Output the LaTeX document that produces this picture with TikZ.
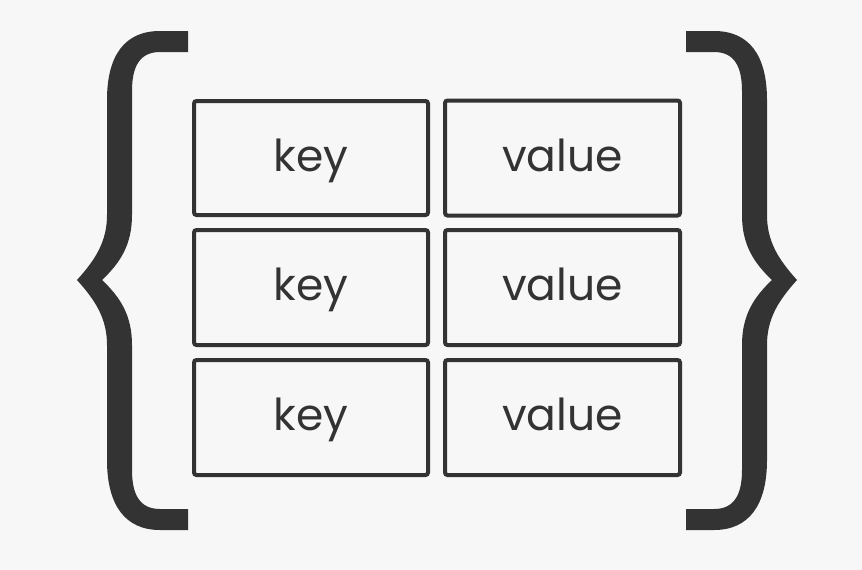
\documentclass[tikz,border=0pt]{standalone}
\usepackage{fontspec}
\setmainfont{Poppins}
\definecolor{bgc}{HTML}{F7F7F7}
\definecolor{ink}{HTML}{333333}
\begin{document}
\begin{tikzpicture}[x=1pt,y=-1pt,
  kvbox/.style={draw=ink, line width=4pt, rounded corners=2.5pt, inner sep=0pt,
    minimum width=235pt, minimum height=115pt, text=ink,
    text height=30pt, text depth=4pt,
    font=\fontsize{44}{52}\selectfont},
  bracefill/.style={fill=ink, draw=none}]
\fill[bgc] (0,0) rectangle (862,570);
\useasboundingbox (0,0) rectangle (862,570);
% left brace
\path[bracefill] (188,31) -- (160,31) .. controls (125,31) and (107,55) .. (107,100)
  -- (107,215) .. controls (107,242) and (95,260) .. (77,280)
  .. controls (95,300) and (107,318) .. (107,345)
  -- (107,460) .. controls (107,505) and (125,530) .. (160,530)
  -- (188,530) -- (188,509) -- (160,509) .. controls (140,509) and (132,495) .. (132,470)
  -- (132,345) .. controls (132,315) and (120,297) .. (102,280)
  .. controls (120,263) and (132,245) .. (132,215)
  -- (132,91) .. controls (132,66) and (140,52) .. (160,52) -- (188,52) -- cycle;
% right brace (mirror)
\begin{scope}[shift={(874,0)}, xscale=-1]
\path[bracefill] (188,31) -- (160,31) .. controls (125,31) and (107,55) .. (107,100)
  -- (107,215) .. controls (107,242) and (95,260) .. (77,280)
  .. controls (95,300) and (107,318) .. (107,345)
  -- (107,460) .. controls (107,505) and (125,530) .. (160,530)
  -- (188,530) -- (188,509) -- (160,509) .. controls (140,509) and (132,495) .. (132,470)
  -- (132,345) .. controls (132,315) and (120,297) .. (102,280)
  .. controls (120,263) and (132,245) .. (132,215)
  -- (132,91) .. controls (132,66) and (140,52) .. (160,52) -- (188,52) -- cycle;
\end{scope}
% boxes
\node[kvbox, minimum width=234pt, minimum height=114pt] (k1) at (311,158) {key};
\node[kvbox] (v1) at (562.5,158) {value};
\node[kvbox, minimum width=234pt] (k2) at (311,287.5) {key};
\node[kvbox] (v2) at (562.5,287.5) {value};
\node[kvbox, minimum width=234pt] (k3) at (311,417.5) {key};
\node[kvbox] (v3) at (562.5,417.5) {value};
\end{tikzpicture}
\end{document}
